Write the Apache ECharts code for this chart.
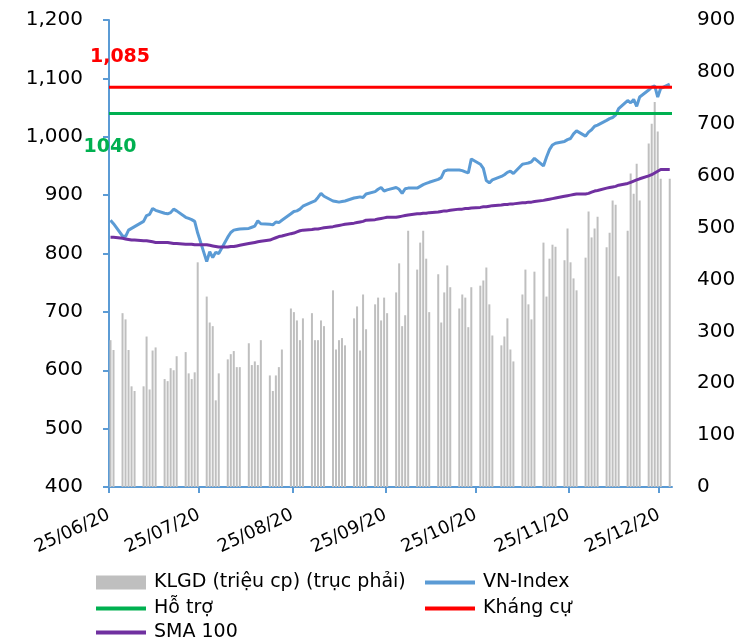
<!DOCTYPE html>
<html><head><meta charset="utf-8">
<script src="https://cdn.jsdelivr.net/npm/echarts@6/dist/echarts.min.js"></script>
<style>html,body{margin:0;padding:0;background:#fff}#c{width:750px;height:642px}</style>
</head><body><div id="c"></div>
<script>
const dates = [
'2020-06-25','2020-06-26',
'2020-06-29','2020-06-30','2020-07-01','2020-07-02','2020-07-03',
'2020-07-06','2020-07-07','2020-07-08','2020-07-09','2020-07-10',
'2020-07-13','2020-07-14','2020-07-15','2020-07-16','2020-07-17',
'2020-07-20','2020-07-21','2020-07-22','2020-07-23','2020-07-24',
'2020-07-27','2020-07-28','2020-07-29','2020-07-30','2020-07-31',
'2020-08-03','2020-08-04','2020-08-05','2020-08-06','2020-08-07',
'2020-08-10','2020-08-11','2020-08-12','2020-08-13','2020-08-14',
'2020-08-17','2020-08-18','2020-08-19','2020-08-20','2020-08-21',
'2020-08-24','2020-08-25','2020-08-26','2020-08-27','2020-08-28',
'2020-08-31','2020-09-01','2020-09-02','2020-09-03','2020-09-04',
'2020-09-07','2020-09-08','2020-09-09','2020-09-10','2020-09-11',
'2020-09-14','2020-09-15','2020-09-16','2020-09-17','2020-09-18',
'2020-09-21','2020-09-22','2020-09-23','2020-09-24','2020-09-25',
'2020-09-28','2020-09-29','2020-09-30','2020-10-01','2020-10-02',
'2020-10-05','2020-10-06','2020-10-07','2020-10-08','2020-10-09',
'2020-10-12','2020-10-13','2020-10-14','2020-10-15','2020-10-16',
'2020-10-19','2020-10-20','2020-10-21','2020-10-22','2020-10-23',
'2020-10-26','2020-10-27','2020-10-28','2020-10-29','2020-10-30',
'2020-11-02','2020-11-03','2020-11-04','2020-11-05','2020-11-06',
'2020-11-09','2020-11-10','2020-11-11','2020-11-12','2020-11-13',
'2020-11-16','2020-11-17','2020-11-18','2020-11-19','2020-11-20',
'2020-11-23','2020-11-24','2020-11-25','2020-11-26','2020-11-27',
'2020-11-30','2020-12-01','2020-12-02','2020-12-03','2020-12-04',
'2020-12-07','2020-12-08','2020-12-09','2020-12-10','2020-12-11',
'2020-12-14','2020-12-15','2020-12-16','2020-12-17','2020-12-18',
'2020-12-21','2020-12-22','2020-12-23','2020-12-24','2020-12-25',
'2020-12-28'
];
const volume = [
283,264,
335,323,264,194,185,
194,290,188,263,269,
208,204,229,225,252,
260,219,208,221,433,
367,317,310,167,219,
246,256,262,231,231,
277,235,242,235,283,
215,185,215,231,265,
344,337,321,283,325,
335,283,283,321,310,
379,265,283,287,273,
325,348,263,371,304,
352,365,321,365,335,
375,431,310,331,494,
419,471,494,440,337,
410,317,375,427,385,
344,371,365,308,385,
388,398,423,352,292,
273,290,325,265,242,
371,419,352,323,415,
471,367,440,467,463,
437,498,433,402,379,
442,531,481,498,521,
462,490,552,544,406,
494,604,565,623,552,
662,700,742,685,594,
594
];
const vnIndex = [
857,851,
830,829,840,843,846,
855,865,867,877,874,
869,868,870,876,873,
862,860,858,855,835,
786,803,793,802,800,
828,836,840,841,842,
843,845,847,856,851,
850,849,854,853,857,
868,872,873,876,881,
888,890,896,903,898,
890,889,888,889,890,
895,896,897,896,902,
906,910,913,907,909,
913,910,903,911,912,
912,915,918,920,922,
927,930,941,943,943,
943,942,940,938,962,
953,946,925,921,926,
932,935,939,941,937,
953,954,955,957,963,
950,965,978,986,989,
992,995,997,1005,1010,
1001,1008,1012,1018,1020,
1028,1031,1033,1037,1048,
1062,1058,1064,1052,1068,
1080,1085,1087,1068,1083,
1090
];
const sma100 = [
828,828,
826,825,824,823,823,
822,822,821,820,819,
819,819,818,817,817,
816,816,816,815,815,
815,814,813,812,811,
811,812,812,813,814,
817,818,819,820,821,
823,825,827,829,830,
834,835,837,839,840,
841,842,842,843,844,
846,847,848,849,850,
852,853,854,855,857,
858,859,860,861,862,
862,863,864,865,866,
868,868,869,869,870,
871,872,873,873,874,
876,876,877,877,878,
879,880,880,881,882,
883,884,884,885,885,
887,887,888,888,889,
891,892,893,894,895,
898,899,900,901,902,
902,903,905,907,908,
912,913,914,915,917,
920,922,924,926,928,
933,935,938,941,944,
944
];
const supportLevel = 1040;
const supportLabel = '1040';
const resistanceLevel = 1085;
const resistanceLabel = '1,085';
const tickDates = ['2020-06-25','2020-07-25','2020-08-25','2020-09-25','2020-10-25','2020-11-25','2020-12-25'];
const tickLabels = ['25/06/20','25/07/20','25/08/20','25/09/20','25/10/20','25/11/20','25/12/20'];
const seriesNames = ['KLGD (triệu cp) (trục phải)','VN-Index','Hỗ trợ','Kháng cự','SMA 100'];

function ts(d, h) { const p = d.split('-').map(Number); return new Date(p[0], p[1]-1, p[2], h || 0).getTime(); }
const xMin = ts('2020-06-25', 0);
const xMax = ts('2020-12-29', 6);
const tickTs = tickDates.map(d => ts(d, 0));
const pts = arr => dates.map((d, i) => [ts(d, 12), arr[i]]);

const FONT = 'DejaVu Sans';
const chart = echarts.init(document.getElementById('c'));
const legendBase = {
  orient: 'horizontal', itemWidth: 50, itemHeight: 4, icon: 'rect', padding: 0,
  textStyle: { fontFamily: FONT, fontSize: 19, color: '#000', padding: [0,0,0,3] },
  selectedMode: false
};
const levelLabel = (text, color, offset) => ({
  show: true, position: 'inside', offset: offset, formatter: text, color: color,
  fontFamily: FONT, fontWeight: 'bold', fontSize: 19
});
chart.setOption({
  animation: false,
  backgroundColor: '#fff',
  grid: { left: 109, right: 78, top: 20, bottom: 155 },
  legend: [
    Object.assign({}, legendBase, { left: 96, top: 573, itemHeight: 14, data: [seriesNames[0]] }),
    Object.assign({}, legendBase, { left: 425, top: 573, data: [seriesNames[1]] }),
    Object.assign({}, legendBase, { left: 96, top: 599, data: [seriesNames[2]] }),
    Object.assign({}, legendBase, { left: 425, top: 599, data: [seriesNames[3]] }),
    Object.assign({}, legendBase, { left: 96, top: 623, data: [seriesNames[4]] })
  ],
  xAxis: {
    type: 'value', min: xMin, max: xMax, scale: true,
    axisLine: { show: true, onZero: false, lineStyle: { color: '#5B9BD5', width: 2 } },
    axisTick: { show: true, customValues: tickTs, length: 6, lineStyle: { color: '#5B9BD5', width: 2 } },
    splitLine: { show: false },
    axisLabel: {
      customValues: tickTs, rotate: 25, margin: 27, fontFamily: FONT, fontSize: 18, color: '#000',
      formatter: v => { const i = tickTs.indexOf(v); return i >= 0 ? tickLabels[i] : ''; }
    }
  },
  yAxis: [
    {
      type: 'value', min: 400, max: 1200, interval: 100, position: 'left',
      axisLine: { show: true, lineStyle: { color: '#5B9BD5', width: 2 } },
      axisTick: { show: true, length: 6, lineStyle: { color: '#5B9BD5', width: 2 } },
      splitLine: { show: false },
      axisLabel: { fontFamily: FONT, fontSize: 20, color: '#000', margin: 26,
        formatter: v => v.toLocaleString('en-US') }
    },
    {
      type: 'value', min: 0, max: 900, interval: 100, position: 'right',
      axisLine: { show: false }, axisTick: { show: false }, splitLine: { show: false },
      axisLabel: { fontFamily: FONT, fontSize: 20, color: '#000', margin: 25 }
    }
  ],
  series: [
    { name: seriesNames[0], type: 'bar', yAxisIndex: 1, barWidth: 2, itemStyle: { color: '#BFBFBF' }, data: pts(volume) },
    { name: seriesNames[1], type: 'line', showSymbol: false, symbol: 'none', lineStyle: { color: '#5B9BD5', width: 3 }, itemStyle: { color: '#5B9BD5' }, data: pts(vnIndex) },
    { name: seriesNames[2], type: 'line', showSymbol: true, symbol: 'circle', symbolSize: 0.01, lineStyle: { color: '#00B050', width: 3 }, itemStyle: { color: '#00B050' },
      data: [ { value: [xMin, supportLevel], label: levelLabel(supportLabel, '#00B050', [1, 34]) }, [xMax, supportLevel] ] },
    { name: seriesNames[3], type: 'line', showSymbol: true, symbol: 'circle', symbolSize: 0.01, lineStyle: { color: '#FF0000', width: 3 }, itemStyle: { color: '#FF0000' },
      data: [ { value: [xMin, resistanceLevel], label: levelLabel(resistanceLabel, '#FF0000', [11, -30]) }, [xMax, resistanceLevel] ] },
    { name: seriesNames[4], type: 'line', showSymbol: false, symbol: 'none', lineStyle: { color: '#7030A0', width: 3 }, itemStyle: { color: '#7030A0' }, data: pts(sma100) }
  ]
});
</script></body></html>
